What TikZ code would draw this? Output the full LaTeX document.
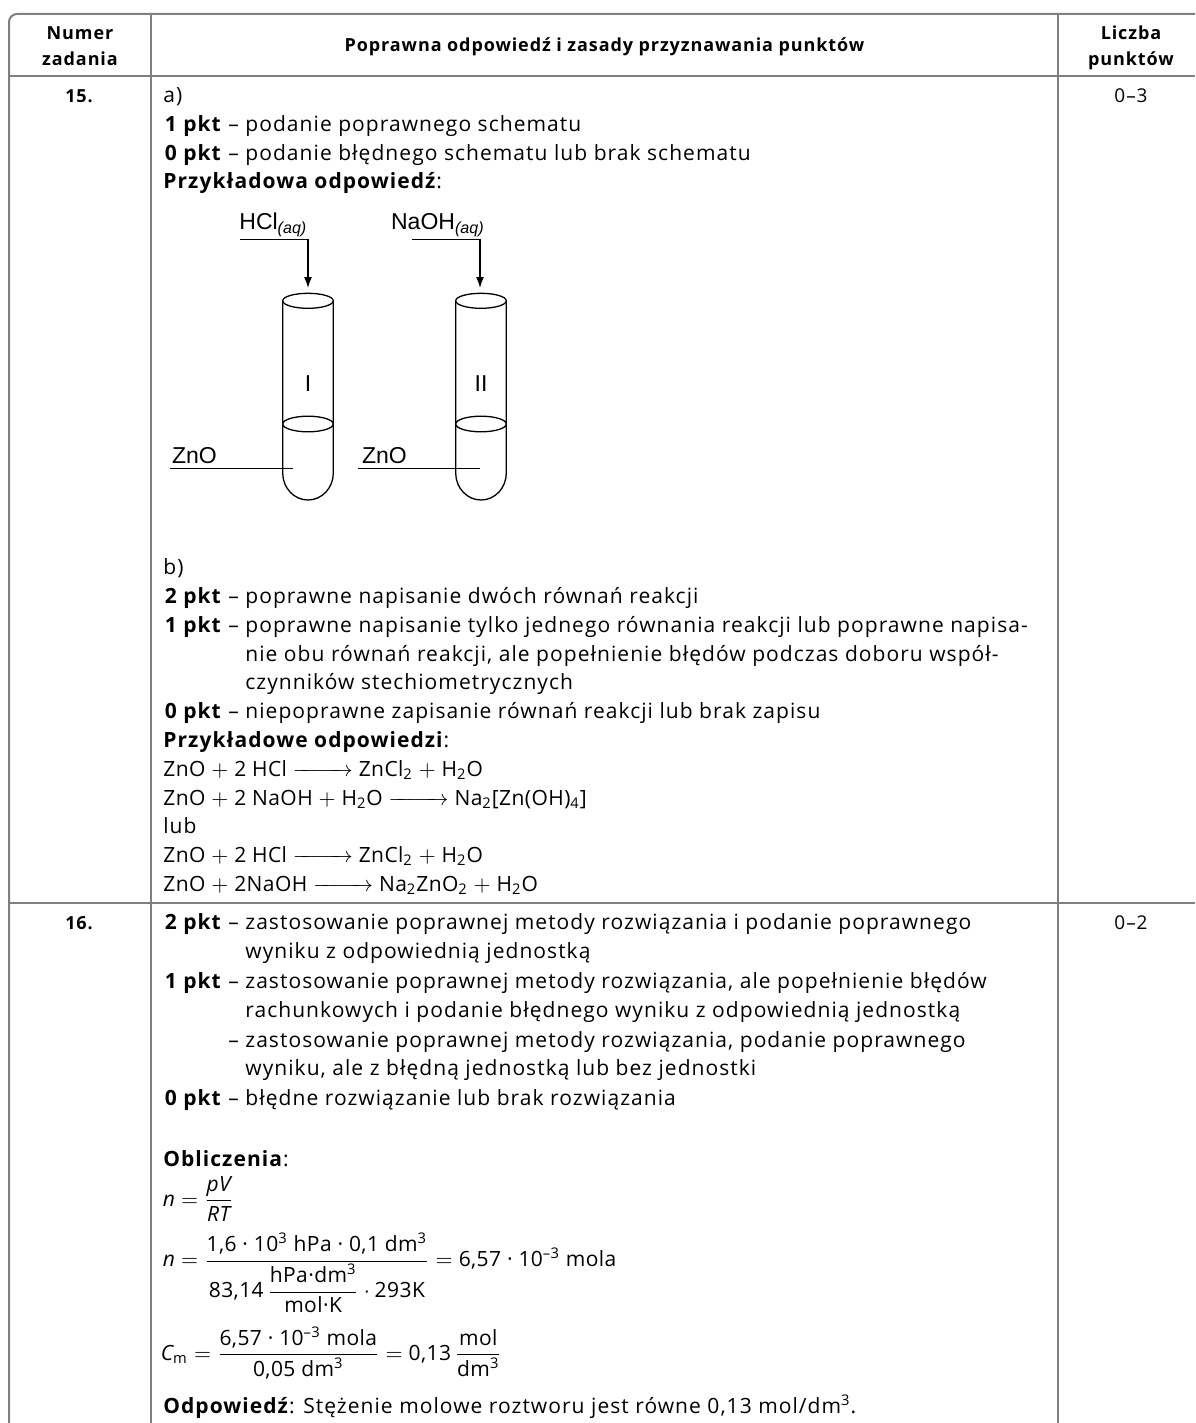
\documentclass[tikz,border=0pt]{standalone}
\usepackage{fontspec}
\usepackage{amsmath}
\setmainfont{Open Sans}[LetterSpace=5.0]
\newfontfamily\figfont{Liberation Sans}
\usetikzlibrary{arrows.meta}
\definecolor{rulegray}{gray}{0.5}
% score label with hanging dash
\newcommand{\pkt}[1]{\makebox[41pt][r]{\textbf{#1}~–~}}
\newcommand{\reactarrow}{\hbox to 30pt{\rightarrowfill}}
\begin{document}
\begin{tikzpicture}[x=0.5pt, y=-0.5pt,
  tbl/.style={draw=rulegray, line width=1pt},
  body/.style={anchor=base west, inner sep=0pt, font=\fontsize{10.5}{12}\selectfont},
  chem/.style={body, font=\fontsize{10.5}{12}\selectfont\addfontfeature{LetterSpace=2.0}},
  cell/.style={anchor=base, inner sep=0pt, font=\fontsize{9.5}{12}\selectfont},
  head/.style={anchor=base, inner sep=0pt, font=\bfseries\fontsize{9}{11}\selectfont},
  figlabel/.style={inner sep=0pt, font=\figfont\fontsize{11.5}{13}\selectfont},
  tube/.style={draw, line width=0.65pt},
  feed/.style={draw, line width=0.65pt, -{Latex[length=5.5pt,width=4pt]}}]
\useasboundingbox (0,0) rectangle (1195,1423);

% table frame
\draw[tbl, rounded corners=4pt] (9,1423) -- (9,14) -- (1195,14);
\draw[tbl] (151,14) -- (151,1423);
\draw[tbl] (1058,14) -- (1058,1423);
\draw[tbl] (9,76) -- (1195,76);
\draw[tbl] (9,902.7) -- (1195,902.7);

% header
\node[head] (numer) at (80,40) {Numer};
\node[head] (zadania) at (80,65.7) {zadania};
\node[head] (heading) at (604.5,52) {Poprawna odpowiedź i zasady przyznawania punktów};
\node[head] (liczba) at (1131,40) {Liczba};
\node[head] (punktow) at (1131,65.7) {punktów};

% task 15
\node[head] (no15) at (79,103) {15.};
\node[cell] (pts15) at (1131,103) {0–3};
\node[body] (a15) at (163,103) {a)};
\node[body] (a15one) at (163,131.7) {\pkt{1 pkt}podanie poprawnego schematu};
\node[body] (a15zero) at (163,160.4) {\pkt{0 pkt}podanie błędnego schematu lub brak schematu};
\node[body] (a15ex) at (163,189) {\textbf{Przykładowa odpowiedź}:};

% test tubes
\node[figlabel, anchor=base west] (hcl) at (239,230) {HCl\textsubscript{\itshape(aq)}};
\node[figlabel, anchor=base west] (naoh) at (390.7,230) {NaOH\textsubscript{\itshape(aq)}};
\coordinate (hclfoot) at (240,239.3);
\coordinate (naohfoot) at (411.7,239.3);
\coordinate (mouthI) at (308,288);
\coordinate (mouthII) at (480,288);
\draw[feed] (hclfoot) -| (mouthI);
\draw[feed] (naohfoot) -| (mouthII);

\draw[tube] (308,300.8) ellipse [x radius=12.65pt, y radius=3.75pt];
\draw[tube] (308,424) ellipse [x radius=12.65pt, y radius=3.9pt];
\draw[tube] (282.7,300.8) -- (282.7,473) arc [start angle=180, end angle=360, x radius=12.65pt, y radius=13.5pt] -- (333.3,300.8);
\draw[tube] (481,300.8) ellipse [x radius=12.65pt, y radius=3.75pt];
\draw[tube] (481,424) ellipse [x radius=12.65pt, y radius=3.9pt];
\draw[tube] (455.7,300.8) -- (455.7,473) arc [start angle=180, end angle=360, x radius=12.65pt, y radius=13.5pt] -- (506.3,300.8);

\node[figlabel, anchor=base] (tubeI) at (308,391.7) {I};
\node[figlabel, anchor=base] (tubeII) at (481,391.7) {II};

\node[figlabel, anchor=base west] (znoI) at (171.7,463.3) {ZnO};
\node[figlabel, anchor=base west] (znoII) at (361.7,463.3) {ZnO};
\coordinate (znofootI) at (170,468.3);
\coordinate (znofootII) at (358.3,468.3);
\coordinate (solidI) at (292.7,468.3);
\coordinate (solidII) at (480,468.3);
\draw[tube] (znofootI) -- (solidI);
\draw[tube] (znofootII) -- (solidII);

\node[body] (b15) at (163,574) {b)};
\node[body] (b15two) at (163,603) {\pkt{2 pkt}poprawne napisanie dwóch równań reakcji};
\node[body] (b15one) at (163,632) {\pkt{1 pkt}poprawne napisanie tylko jednego równania reakcji lub poprawne napisa-};
\node[body] (b15onea) at (245,661) {nie obu równań reakcji, ale popełnienie błędów podczas doboru współ-};
\node[body] (b15oneb) at (245,689) {czynników stechiometrycznych};
\node[body] (b15zero) at (163,718) {\pkt{0 pkt}niepoprawne zapisanie równań reakcji lub brak zapisu};
\node[body] (b15ex) at (163,747) {\textbf{Przykładowe odpowiedzi}:};
\node[chem] (eqa) at (163,776) {ZnO $+$ 2 HCl \reactarrow{} ZnCl\textsubscript{2} $+$ H\textsubscript{2}O};
\node[chem] (eqb) at (163,805) {ZnO $+$ 2 NaOH $+$ H\textsubscript{2}O \reactarrow{} Na\textsubscript{2}[Zn(OH)\textsubscript{4}]};
\node[body] (lub) at (163,833) {lub};
\node[chem] (eqc) at (163,862) {ZnO $+$ 2 HCl \reactarrow{} ZnCl\textsubscript{2} $+$ H\textsubscript{2}O};
\node[chem] (eqd) at (163,891) {ZnO $+$ 2NaOH \reactarrow{} Na\textsubscript{2}ZnO\textsubscript{2} $+$ H\textsubscript{2}O};

% task 16
\node[head] (no16) at (79,929) {16.};
\node[cell] (pts16) at (1131,929) {0–2};
\node[body] (c16two) at (163,929) {\pkt{2 pkt}zastosowanie poprawnej metody rozwiązania i podanie poprawnego};
\node[body] (c16twoa) at (245,958) {wyniku z odpowiednią jednostką};
\node[body] (c16one) at (163,988) {\pkt{1 pkt}zastosowanie poprawnej metody rozwiązania, ale popełnienie błędów};
\node[body] (c16onea) at (245,1017) {rachunkowych i podanie błędnego wyniku z odpowiednią jednostką};
\node[body] (c16oneb) at (163,1047) {\pkt{}zastosowanie poprawnej metody rozwiązania, podanie poprawnego};
\node[body] (c16onec) at (245,1075) {wyniku, ale z błędną jednostką lub bez jednostki};
\node[body] (c16zero) at (163,1105) {\pkt{0 pkt}błędne rozwiązanie lub brak rozwiązania};
\node[body] (calc) at (163,1166.7) {\textbf{Obliczenia}:};
\node[chem] (gaslaw) at (162.5,1206) {$\textit{n} = \dfrac{\textit{pV}}{\textit{RT}}$};
\node[chem] (moles) at (162.5,1266.7) {$\textit{n} = \dfrac{\text{1,6 · 10\textsuperscript{3} hPa · 0,1 dm\textsuperscript{3}}}{\text{83,14}\,\dfrac{\text{hPa·dm\textsuperscript{3}}}{\text{mol·K}}\cdot\text{293K}} = \text{6,57 · 10\textsuperscript{–3} mola}$};
\node[chem] (conc) at (160.5,1360) {$\textit{C}_{\text{m}} = \dfrac{\text{6,57 · 10\textsuperscript{–3} mola}}{\text{0,05 dm\textsuperscript{3}}} = \text{0,13}\,\dfrac{\text{mol}}{\text{dm\textsuperscript{3}}}$};
\node[body] (answer) at (163,1413.3) {\textbf{Odpowiedź}: Stężenie molowe roztworu jest równe 0,13 mol/dm\textsuperscript{3}.};
\end{tikzpicture}
\end{document}
